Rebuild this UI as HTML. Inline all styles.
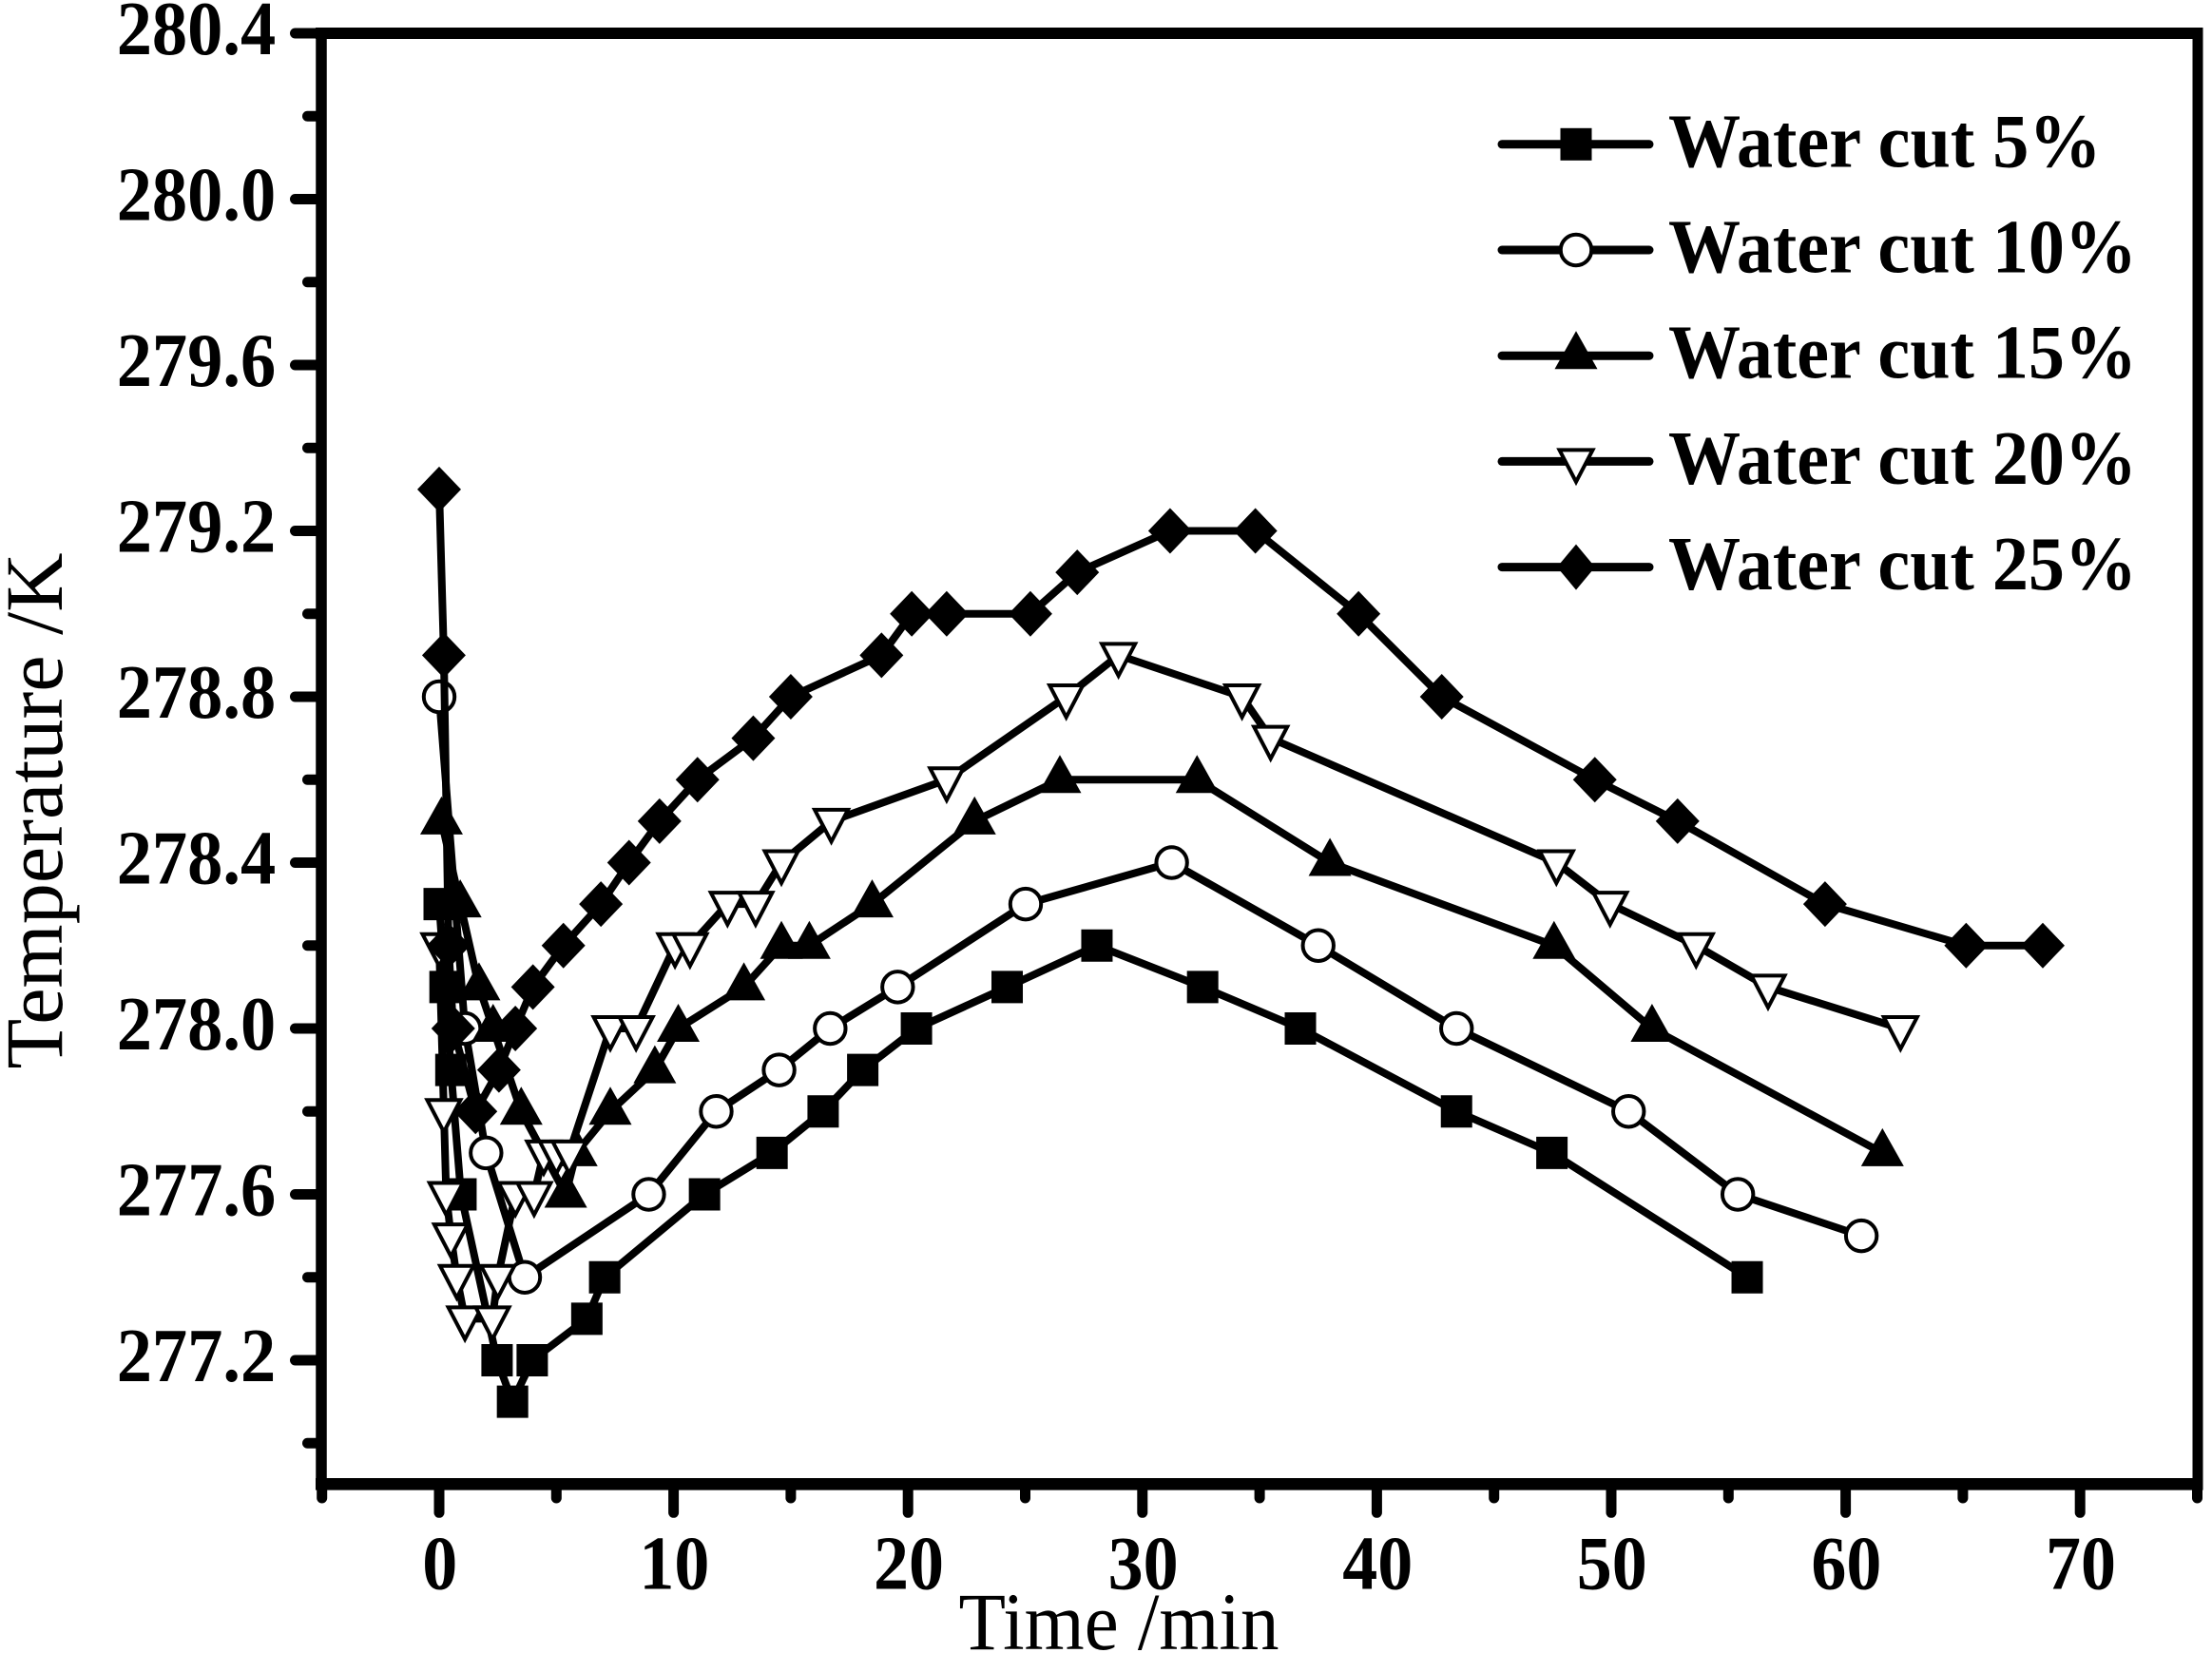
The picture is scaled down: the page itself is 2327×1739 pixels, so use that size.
<!DOCTYPE html>
<html lang="en">
<head>
<meta charset="utf-8">
<title>Temperature vs Time by Water Cut</title>
<style>
html,body{margin:0;padding:0;background:#fff;}
#chart{display:block;width:2327px;height:1739px;background:#fff;}
text{fill:#000;font-family:"Liberation Serif","Times New Roman",serif;}
</style>
</head>
<body>
<svg id="chart" xmlns="http://www.w3.org/2000/svg" width="2327" height="1739" viewBox="0 0 2327 1739">
  <g id="axes"></g>
  <g id="plot"></g>
  <g id="legend"></g>
  <text x="0" y="0" transform="translate(65,1124.5) rotate(-90)" font-size="86" textLength="543" lengthAdjust="spacingAndGlyphs">Temperature /K</text>
  <text x="1008.5" y="1735" font-size="86" textLength="337" lengthAdjust="spacingAndGlyphs">Time /min</text>
</svg>
<script>
const xTickLabels = ["0", "10", "20", "30", "40", "50", "60", "70"];
const xMinorTicks = [-5, 5, 15, 25, 35, 45, 55, 65, 75];
const yTickLabels = ["280.4", "280.0", "279.6", "279.2", "278.8", "278.4", "278.0", "277.6", "277.2"];
const yMinorTicks = [280.2, 279.8, 279.4, 279.0, 278.6, 278.2, 277.8, 277.4, 277.0];

const seriesNames = ["Water cut 5%", "Water cut 10%", "Water cut 15%", "Water cut 20%", "Water cut 25%"];
const seriesMarkers = ["square", "circle", "triangle", "inverted-triangle", "diamond"];

const time5 = [0, 0.25, 0.5, 0.93, 2.47, 3.13, 3.97, 6.3, 7.06, 11.32, 14.2, 16.38, 18.07, 20.36, 24.23, 28.06, 32.57, 36.74, 43.4, 47.47, 55.8];
const temp5 = [278.3, 278.1, 277.9, 277.6, 277.2, 277.1, 277.2, 277.3, 277.4, 277.6, 277.7, 277.8, 277.9, 278.0, 278.1, 278.2, 278.1, 278.0, 277.8, 277.7, 277.4];

const time10 = [0, 1.1, 2.0, 3.65, 8.94, 11.82, 14.5, 16.68, 19.56, 25.02, 31.25, 37.5, 43.4, 50.74, 55.4, 60.67];
const temp10 = [278.8, 278.0, 277.7, 277.4, 277.6, 277.8, 277.9, 278.0, 278.1, 278.3, 278.4, 278.2, 278.0, 277.8, 277.6, 277.5];

const time15 = [0.1, 0.9, 1.7, 2.3, 3.5, 5.4, 5.85, 7.3, 9.2, 10.2, 13.0, 14.6, 15.79, 18.47, 22.84, 26.48, 32.33, 38, 47.56, 51.74, 61.57];
const temp15 = [278.5, 278.3, 278.1, 278.0, 277.8, 277.6, 277.7, 277.8, 277.9, 278.0, 278.1, 278.2, 278.2, 278.3, 278.5, 278.6, 278.6, 278.4, 278.2, 278.0, 277.7];

const time20 = [0, 0.2, 0.3, 0.5, 0.75, 1.1, 2.27, 2.5, 3.25, 4.05, 4.46, 5.0, 5.55, 7.3, 8.4, 10.06, 10.7, 12.3, 13.5, 14.6, 16.73, 21.65, 26.75, 28.98, 34.25, 35.47, 47.66, 49.95, 53.62, 56.69, 62.34];
const temp20 = [278.2, 277.8, 277.6, 277.5, 277.4, 277.3, 277.3, 277.4, 277.6, 277.6, 277.7, 277.7, 277.7, 278.0, 278.0, 278.2, 278.2, 278.3, 278.3, 278.4, 278.5, 278.6, 278.8, 278.9, 278.8, 278.7, 278.4, 278.3, 278.2, 278.1, 278.0];

const time25 = [0, 0.2, 0.4, 0.6, 1.55, 2.55, 3.25, 4, 5.3, 6.9, 8.1, 9.4, 11.02, 13.4, 15.0, 18.87, 20.16, 21.65, 25.22, 27.22, 31.18, 34.82, 39.22, 42.77, 49.3, 52.83, 59.12, 65.14, 68.41];
const temp25 = [279.3, 278.9, 278.2, 278.0, 277.8, 277.9, 278.0, 278.1, 278.2, 278.3, 278.4, 278.5, 278.6, 278.7, 278.8, 278.9, 279.0, 279.0, 279.0, 279.1, 279.2, 279.2, 279.0, 278.8, 278.6, 278.5, 278.3, 278.2, 278.2];

const seriesTimes = [time5, time10, time15, time20, time25];
const seriesTemps = [temp5, temp10, temp15, temp20, temp25];

const SVGNS = "http://www.w3.org/2000/svg";
const axes = document.getElementById("axes");
const plot = document.getElementById("plot");
const legend = document.getElementById("legend");

function xScale(t) { return 462 + t * 24.66; }
function yScale(v) { return 35 + (280.4 - v) * 436.25; }

function makeLine(parent, x1, y1, x2, y2, w, cap) {
  const l = document.createElementNS(SVGNS, "line");
  l.setAttribute("x1", x1);
  l.setAttribute("y1", y1);
  l.setAttribute("x2", x2);
  l.setAttribute("y2", y2);
  l.setAttribute("stroke", "#000");
  l.setAttribute("stroke-width", w);
  l.setAttribute("stroke-linecap", cap);
  parent.appendChild(l);
  return l;
}

function makeLabel(parent, str, x, y, len, anchor) {
  const t = document.createElementNS(SVGNS, "text");
  t.setAttribute("x", x);
  t.setAttribute("y", y);
  t.setAttribute("font-size", "80");
  t.setAttribute("font-weight", "bold");
  t.setAttribute("text-anchor", anchor);
  t.setAttribute("textLength", len);
  t.setAttribute("lengthAdjust", "spacingAndGlyphs");
  t.textContent = str;
  parent.appendChild(t);
  return t;
}

function makeShape(parent, kind, cx, cy, diamondHalfWidth) {
  let el;
  if (kind === "square") {
    el = document.createElementNS(SVGNS, "rect");
    el.setAttribute("x", cx - 16.5);
    el.setAttribute("y", cy - 17);
    el.setAttribute("width", 33);
    el.setAttribute("height", 34);
    el.setAttribute("fill", "#000");
  } else if (kind === "circle") {
    el = document.createElementNS(SVGNS, "circle");
    el.setAttribute("cx", cx);
    el.setAttribute("cy", cy);
    el.setAttribute("r", 16.2);
    el.setAttribute("fill", "#fff");
    el.setAttribute("stroke", "#000");
    el.setAttribute("stroke-width", 4);
  } else {
    el = document.createElementNS(SVGNS, "polygon");
    let pts = "";
    if (kind === "triangle") {
      pts = cx + "," + (cy - 26) + " " + (cx + 22.5) + "," + (cy + 14) + " " + (cx - 22.5) + "," + (cy + 14);
      el.setAttribute("fill", "#000");
    } else if (kind === "inverted-triangle") {
      pts = (cx - 17.5) + "," + (cy - 12) + " " + (cx + 17.5) + "," + (cy - 12) + " " + cx + "," + (cy + 21.5);
      el.setAttribute("fill", "#fff");
      el.setAttribute("stroke", "#000");
      el.setAttribute("stroke-width", 4);
    } else {
      pts = cx + "," + (cy - 24) + " " + (cx + diamondHalfWidth) + "," + cy + " " + cx + "," + (cy + 24) + " " + (cx - diamondHalfWidth) + "," + cy;
      el.setAttribute("fill", "#000");
    }
    el.setAttribute("points", pts);
  }
  parent.appendChild(el);
  return el;
}

/* frame */
const spineLeft = makeLine(axes, 338, 29, 338, 1567, 11.5, "butt");


const spineRight = makeLine(axes, 2312, 29, 2312, 1567, 11, "butt");


const spineTop = makeLine(axes, 332, 35, 2317.5, 35, 12, "butt");


const spineBottom = makeLine(axes, 332, 1561.3, 2317.5, 1561.3, 12.6, "butt");



/* y axis */
yTickLabels.forEach(function (lab) {
  const y = yScale(parseFloat(lab));
  const tick = makeLine(axes, 334, y, 310.5, y, 11, "round");
  
  
  const text = makeLabel(axes, lab, 122.7, y + 21.8, 167.5, "start");
  
  
});
yMinorTicks.forEach(function (v) {
  const y = yScale(v);
  const tick = makeLine(axes, 334, y, 323.5, y, 11, "round");
  
  
});

/* x axis */
xTickLabels.forEach(function (lab) {
  const x = xScale(parseFloat(lab));
  const tick = makeLine(axes, x, 1565, x, 1591.3, 11, "round");
  
  
  const text = makeLabel(axes, lab, x + 0.8, 1671.5, lab.length * 37, "middle");
  
  
});
xMinorTicks.forEach(function (t) {
  const x = xScale(t);
  const tick = makeLine(axes, x, 1565, x, 1576, 11, "round");
  
  
});

/* series */
seriesNames.forEach(function (name, s) {
  const g = document.createElementNS(SVGNS, "g");
  
  
  plot.appendChild(g);

  const times = seriesTimes[s];
  const temps = seriesTemps[s];
  const pts = times.map(function (t, i) { return xScale(t) + "," + yScale(temps[i]); }).join(" ");

  const line = document.createElementNS(SVGNS, "polyline");
  line.setAttribute("points", pts);
  line.setAttribute("fill", "none");
  line.setAttribute("stroke", "#000");
  line.setAttribute("stroke-width", 8);
  line.setAttribute("stroke-linejoin", "round");
  
  
  g.appendChild(line);

  times.forEach(function (t, i) {
    const m = makeShape(g, seriesMarkers[s], xScale(t), yScale(temps[i]), 23);
    
    
  });
});

/* legend */
seriesNames.forEach(function (name, s) {
  const y = 151.8 + s * 111.2;
  const g = document.createElementNS(SVGNS, "g");
  
  
  legend.appendChild(g);

  const sample = makeLine(g, 1580, y, 1735, y, 9, "round");
  
  

  const m = makeShape(g, seriesMarkers[s], 1658, y, 20);
  
  

  const label = makeLabel(g, name, 1755, y + 23.5, s === 0 ? 455.5 : 493, "start");
  
  
});
</script>
</body>
</html>
